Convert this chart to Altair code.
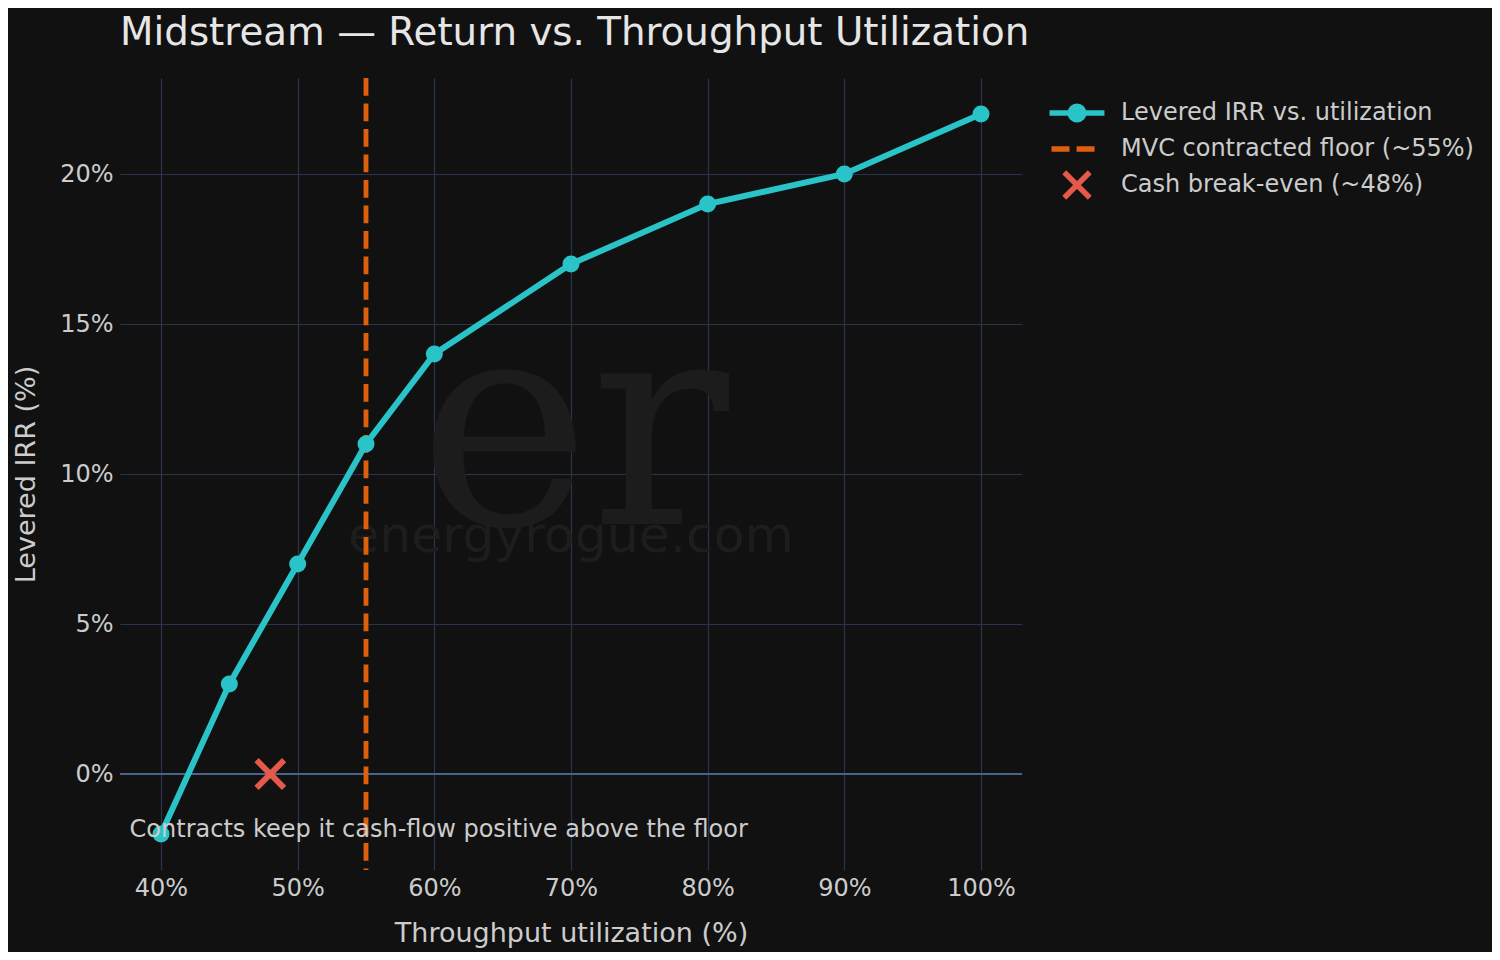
import altair as alt
import pandas as pd

# ---- data ----
util = [40, 45, 50, 55, 60, 70, 80, 90, 100]
irr = [-2, 3, 7, 11, 14, 17, 19, 20, 22]
series_names = [
    "Levered IRR vs. utilization",
    "MVC contracted floor (~55%)",
    "Cash break-even (~48%)",
]
mvc_floor = [55]
breakeven_x = [48]
breakeven_y = [0]
x_ticks = [40, 50, 60, 70, 80, 90, 100]
y_ticks = [0, 5, 10, 15, 20]
annotation = ["Contracts keep it cash-flow positive above the floor"]
chart_title = "Midstream \u2014 Return vs. Throughput Utilization"

# ---- styles ----
BG = "#111111"
TEAL = "#29c3c8"
ORANGE = "#de600d"
RED = "#e35a4b"
GRID = "#2a344c"
ZERO = "#48638e"
TXT = "#cccccc"
FONT = "DejaVu Sans"

W, H = 902, 792
X_DOM = [37, 103]
Y_DOM = [-3.2, 23.2]

line_path = ("M-1.83,0H1.83"
             "M0.45,0A0.45,0.45 0 1 1 -0.45,0A0.45,0.45 0 1 1 0.45,0"
             "M0.27,0A0.27,0.27 0 1 1 -0.27,0A0.27,0.27 0 1 1 0.27,0"
             "M0.09,0A0.09,0.09 0 1 1 -0.09,0A0.09,0.09 0 1 1 0.09,0")
dash_path = "M-1.7,0H-0.5M-0.03,0H1.17"
x_path = "M-0.85,-0.85L0.85,0.85M-0.85,0.85L0.85,-0.85"

line_df = pd.DataFrame({"util": util, "irr": irr, "series": series_names[0]})
floor_df = pd.DataFrame({"util": mvc_floor, "series": [series_names[1]]})
be_df = pd.DataFrame({"util": breakeven_x, "irr": breakeven_y, "series": [series_names[2]]})
ann_df = pd.DataFrame({"text": annotation})

xs = alt.Scale(domain=X_DOM, nice=False, zero=False)
ys = alt.Scale(domain=Y_DOM, nice=False, zero=False)

legend_kw = dict(
    title=None, orient="none", legendX=939, legendY=17,
    symbolSize=900, symbolStrokeWidth=5.5, labelFontSize=24,
    labelColor=TXT, labelFont=FONT, labelOffset=26, rowPadding=0,
    padding=0, labelLimit=500,
)
color_enc = alt.Color("series:N",
                      scale=alt.Scale(domain=series_names, range=[TEAL, ORANGE, RED]),
                      legend=alt.Legend(**legend_kw))
shape_enc = alt.Shape("series:N",
                      scale=alt.Scale(domain=series_names, range=[line_path, dash_path, x_path]),
                      legend=alt.Legend(**legend_kw))

x_enc = alt.X("util:Q", scale=xs,
              axis=alt.Axis(title="Throughput utilization (%)", values=x_ticks,
                            labelExpr="datum.value + '%'"))
y_enc = alt.Y("irr:Q", scale=ys,
              axis=alt.Axis(title="Levered IRR (%)", values=y_ticks,
                            labelExpr="datum.value + '%'"))

# watermark
wm1 = alt.Chart(ann_df).mark_text(
    text="er", font="DejaVu Serif", fontSize=290, color="#1c1c1c",
    align="center", baseline="alphabetic"
).encode(x=alt.datum(70.2, scale=xs), y=alt.datum(8.33, scale=ys))
wm2 = alt.Chart(ann_df).mark_text(
    text="energyrogue.com", font=FONT, fontSize=50.5, color="#1d1d1d",
    align="center", baseline="alphabetic"
).encode(x=alt.datum(70, scale=xs), y=alt.datum(7.4, scale=ys))

zero_rule = alt.Chart(ann_df).mark_rule(color=ZERO, strokeWidth=2).encode(
    y=alt.datum(0, scale=ys)
)

floor_rule = alt.Chart(floor_df).mark_rule(strokeWidth=4.8, strokeDash=[17.8, 7.7]).encode(
    x=alt.X("util:Q", scale=xs), color=color_enc
)

line = alt.Chart(line_df).mark_line(strokeWidth=6).encode(
    x=x_enc, y=y_enc, color=color_enc
)
pts = alt.Chart(line_df).mark_point(filled=True, size=290, opacity=1, color=TEAL, shape="circle").encode(
    x="util:Q", y="irr:Q"
)
be = alt.Chart(be_df).mark_point(filled=False, size=1050, strokeWidth=6, opacity=1).encode(
    x="util:Q", y="irr:Q", color=color_enc, shape=shape_enc
)
ann = alt.Chart(ann_df).mark_text(
    font=FONT, fontSize=24, color=TXT, align="left", baseline="middle"
).encode(x=alt.datum(37.7, scale=xs), y=alt.datum(-1.87, scale=ys), text="text:N")

chart = alt.layer(wm1, wm2, zero_rule, floor_rule, line, pts, be, ann).properties(
    width=W, height=H,
    title=alt.TitleParams(chart_title, anchor="start", frame="group", fontSize=38.8,
                          font=FONT, fontWeight="normal", color="#e6e6e6",
                          baseline="alphabetic", offset=-8),
    autosize=alt.AutoSizeParams(type="none"),
    padding={"left": 112, "top": 70, "right": 470, "bottom": 82},
    background=BG,
).configure_view(stroke=None, fill=BG).configure_axis(
    domain=False, ticks=False, tickSize=0, grid=True, gridColor=GRID, gridWidth=1.2,
    labelColor=TXT, labelFont=FONT, labelFontSize=24,
    titleColor=TXT, titleFont=FONT, titleFontSize=27, titleFontWeight="normal",
).configure_axisX(labelPadding=6, titlePadding=20).configure_axisY(labelPadding=7, titlePadding=19)

chart.save("out.html", embed_options={"renderer": "svg", "actions": False})
